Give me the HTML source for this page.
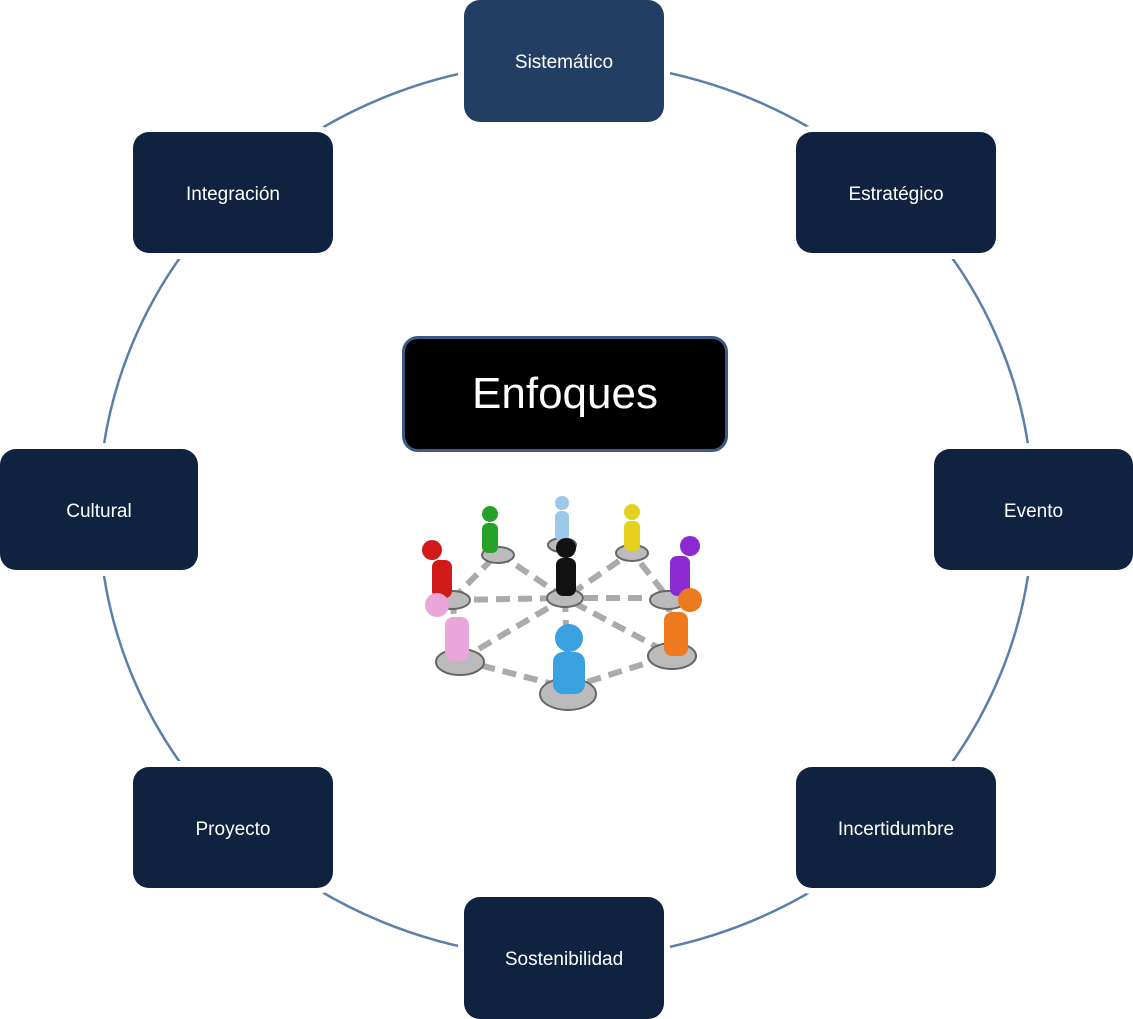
<!DOCTYPE html>
<html><head><style>
body{margin:0;width:1133px;height:1019px;background:#fff;position:relative;overflow:hidden;font-family:"Liberation Sans",sans-serif}
.b{position:absolute;width:200px;height:121px;background:#0f2340;border-radius:16px;color:#fff;font-size:19px;display:flex;align-items:center;justify-content:center;box-shadow:0 0 0 6px #fff;padding-top:4px;box-sizing:border-box}
svg{position:absolute;left:0;top:0}
</style></head><body>
<svg width="1133" height="1019"><ellipse cx="566" cy="510" rx="467" ry="448" fill="none" stroke="#5a7fa8" stroke-width="2.5"/></svg>
<div class="b" style="left:464px;top:0;background:#223f63;height:122px">Sistemático</div>
<div class="b" style="left:133px;top:132px">Integración</div>
<div class="b" style="left:796px;top:132px">Estratégico</div>
<div class="b" style="left:0;top:449px;width:198px">Cultural</div>
<div class="b" style="left:934px;top:449px;width:199px">Evento</div>
<div class="b" style="left:133px;top:767px">Proyecto</div>
<div class="b" style="left:796px;top:767px">Incertidumbre</div>
<div class="b" style="left:464px;top:897px;height:122px">Sostenibilidad</div>
<div style="position:absolute;left:402px;top:336px;width:320px;height:110px;background:#000;border:3px solid #3b5a85;border-radius:16px;color:#fff;font-size:44px;display:flex;align-items:center;justify-content:center">Enfoques</div>
<svg width="1133" height="1019">
<g stroke="#aaa" stroke-width="6" stroke-dasharray="14 8" fill="none">
<path d="M452 600 L565 598 L668 598 M452 600 L498 553 L565 598 L632 552 L668 598 M565 598 L562 545 M460 660 L565 598 L672 655 M460 660 L568 688 L672 655 M452 600 L460 660 M668 598 L672 655 M565 598 L568 688"/>
</g>
<g fill="#bbb" stroke="#666" stroke-width="2">
<ellipse cx="498" cy="555" rx="16" ry="8"/><ellipse cx="562" cy="545" rx="14" ry="7"/><ellipse cx="632" cy="553" rx="16" ry="8"/>
<ellipse cx="452" cy="600" rx="18" ry="9"/><ellipse cx="565" cy="598" rx="18" ry="9"/><ellipse cx="668" cy="600" rx="18" ry="9"/>
<ellipse cx="460" cy="662" rx="24" ry="13"/><ellipse cx="672" cy="656" rx="24" ry="13"/><ellipse cx="568" cy="694" rx="28" ry="16"/>
</g>
<g>
<g fill="#27a02a"><circle cx="490" cy="514" r="8"/><rect x="482" y="523" width="16" height="30" rx="6"/></g>
<g fill="#9cc8ea"><circle cx="562" cy="503" r="7"/><rect x="555" y="511" width="14" height="30" rx="6"/></g>
<g fill="#e5d21e"><circle cx="632" cy="512" r="8"/><rect x="624" y="521" width="16" height="30" rx="6"/></g>
<g fill="#d11a1a"><circle cx="432" cy="550" r="10"/><rect x="432" y="560" width="20" height="38" rx="7"/></g>
<g fill="#111"><circle cx="566" cy="548" r="10"/><rect x="556" y="558" width="20" height="38" rx="7"/></g>
<g fill="#8a2ad0"><circle cx="690" cy="546" r="10"/><rect x="670" y="556" width="20" height="40" rx="7"/></g>
<g fill="#e8a6dc"><circle cx="437" cy="605" r="12"/><rect x="445" y="617" width="24" height="44" rx="8"/></g>
<g fill="#ee7a1f"><circle cx="690" cy="600" r="12"/><rect x="664" y="612" width="24" height="44" rx="8"/></g>
<g fill="#3aa0e0"><circle cx="569" cy="638" r="14"/><rect x="553" y="652" width="32" height="42" rx="10"/></g>
</g>
</svg>
</body></html>
